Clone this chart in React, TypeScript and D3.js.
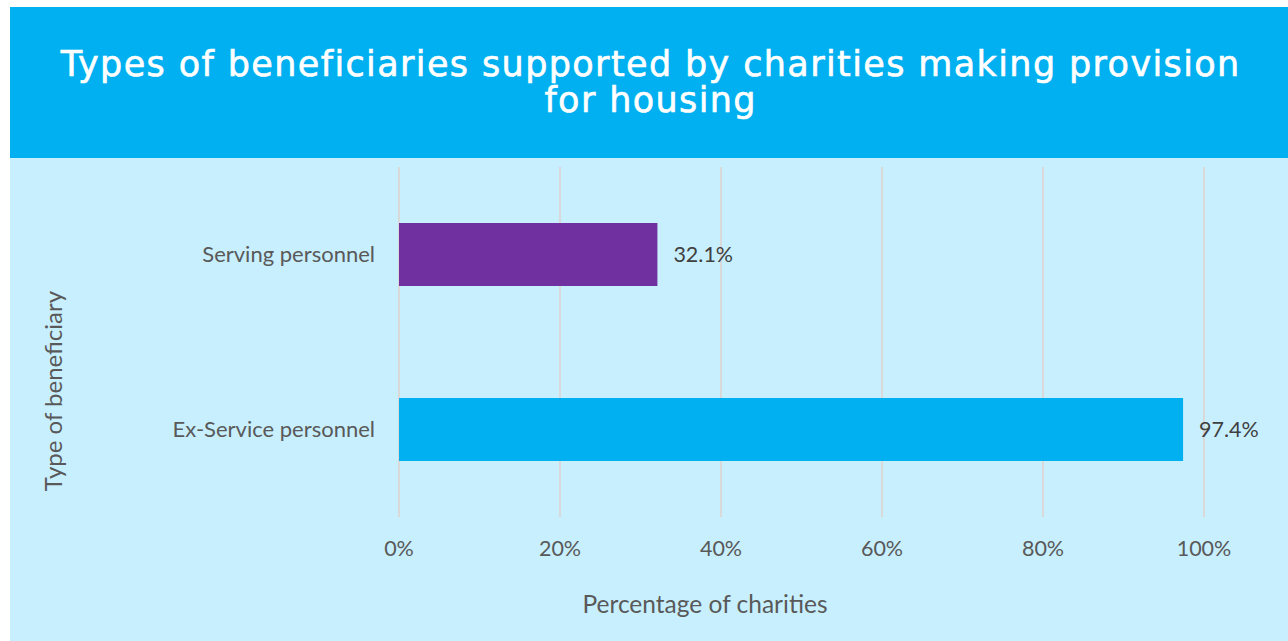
import React, { useLayoutEffect, useRef, useState } from "react";
import * as d3 from "d3";

const categories = ["Serving personnel", "Ex-Service personnel"];
const values = [32.1, 97.4];
const barColors = ["#7030a0", "#00b0f0"];
const xTicks = [0, 20, 40, 60, 80, 100];
const titleLines = [
  "Types of beneficiaries supported by charities making provision",
  "for housing",
];
const xAxisTitle = "Percentage of charities";
const yAxisTitle = "Type of beneficiary";

const W = 1288;
const H = 641;
const TITLE_TARGET_WIDTH = 1180;
const TITLE_SIZE = 35;

export default function App() {
  const titleRef = useRef<SVGTextElement>(null);
  const [spacing, setSpacing] = useState<number | null>(null);
  useLayoutEffect(() => {
    const el = titleRef.current;
    if (!el || spacing !== null) return;
    const w = el.getComputedTextLength();
    const n = titleLines[0].length;
    if (w > 0) setSpacing((TITLE_TARGET_WIDTH - w) / n);
  }, [spacing]);

  const x = d3.scaleLinear().domain([0, 100]).range([399, 1204]);
  const y = d3
    .scaleBand<string>()
    .domain(categories)
    .range([167, 517])
    .paddingInner(0.64)
    .paddingOuter(0.32);
  const bodyFont = "Lato, 'Open Sans', sans-serif";
  const textColor = "#595959";
  const ls = spacing ?? 0;
  return (
    <div style={{ position: "absolute", left: 0, top: 0 }}>
      <svg width={W} height={H} style={{ display: "block" }}>
        <rect x={10} y={7} width={W - 10} height={H - 7} fill="#c8effe" />
        <rect x={10} y={7} width={W - 10} height={151} fill="#00b0f0" />
        {titleLines.map((t, i) => (
          <text
            key={i}
            ref={i === 0 ? titleRef : undefined}
            x={650 + ls / 2}
            y={76 + i * 36}
            textAnchor="middle"
            fill="#ffffff"
            fontFamily="'DejaVu Sans', sans-serif"
            fontSize={TITLE_SIZE}
            letterSpacing={ls}
            stroke="#ffffff"
            strokeWidth={0.6}
          >
            {t}
          </text>
        ))}
        {xTicks.map((t) => (
          <line
            key={t}
            x1={x(t)}
            x2={x(t)}
            y1={167}
            y2={517}
            stroke="#d9d9d9"
            strokeWidth={2}
          />
        ))}
        {categories.map((c, i) => (
          <g key={c}>
            <rect
              x={x(0)}
              y={y(c)}
              width={x(values[i]) - x(0)}
              height={y.bandwidth()}
              fill={barColors[i]}
            />
            <text
              x={375}
              y={(y(c) as number) + y.bandwidth() / 2}
              dy="0.35em"
              textAnchor="end"
              fill={textColor}
              fontFamily={bodyFont}
              fontSize={22}
            >
              {c}
            </text>
            <text
              x={x(values[i]) + 16}
              y={(y(c) as number) + y.bandwidth() / 2}
              dy="0.35em"
              fill="#404040"
              fontFamily={bodyFont}
              fontSize={21.5}
            >
              {values[i].toFixed(1) + "%"}
            </text>
          </g>
        ))}
        {xTicks.map((t) => (
          <text
            key={"l" + t}
            x={x(t)}
            y={556}
            textAnchor="middle"
            fill={textColor}
            fontFamily={bodyFont}
            fontSize={21.5}
          >
            {t + "%"}
          </text>
        ))}
        <text
          x={705}
          y={613}
          textAnchor="middle"
          fill={textColor}
          fontFamily={bodyFont}
          fontSize={24.5}
        >
          {xAxisTitle}
        </text>
        <text
          transform={`translate(62,391) rotate(-90)`}
          textAnchor="middle"
          fill={textColor}
          fontFamily={bodyFont}
          fontSize={24}
        >
          {yAxisTitle}
        </text>
      </svg>
    </div>
  );
}
